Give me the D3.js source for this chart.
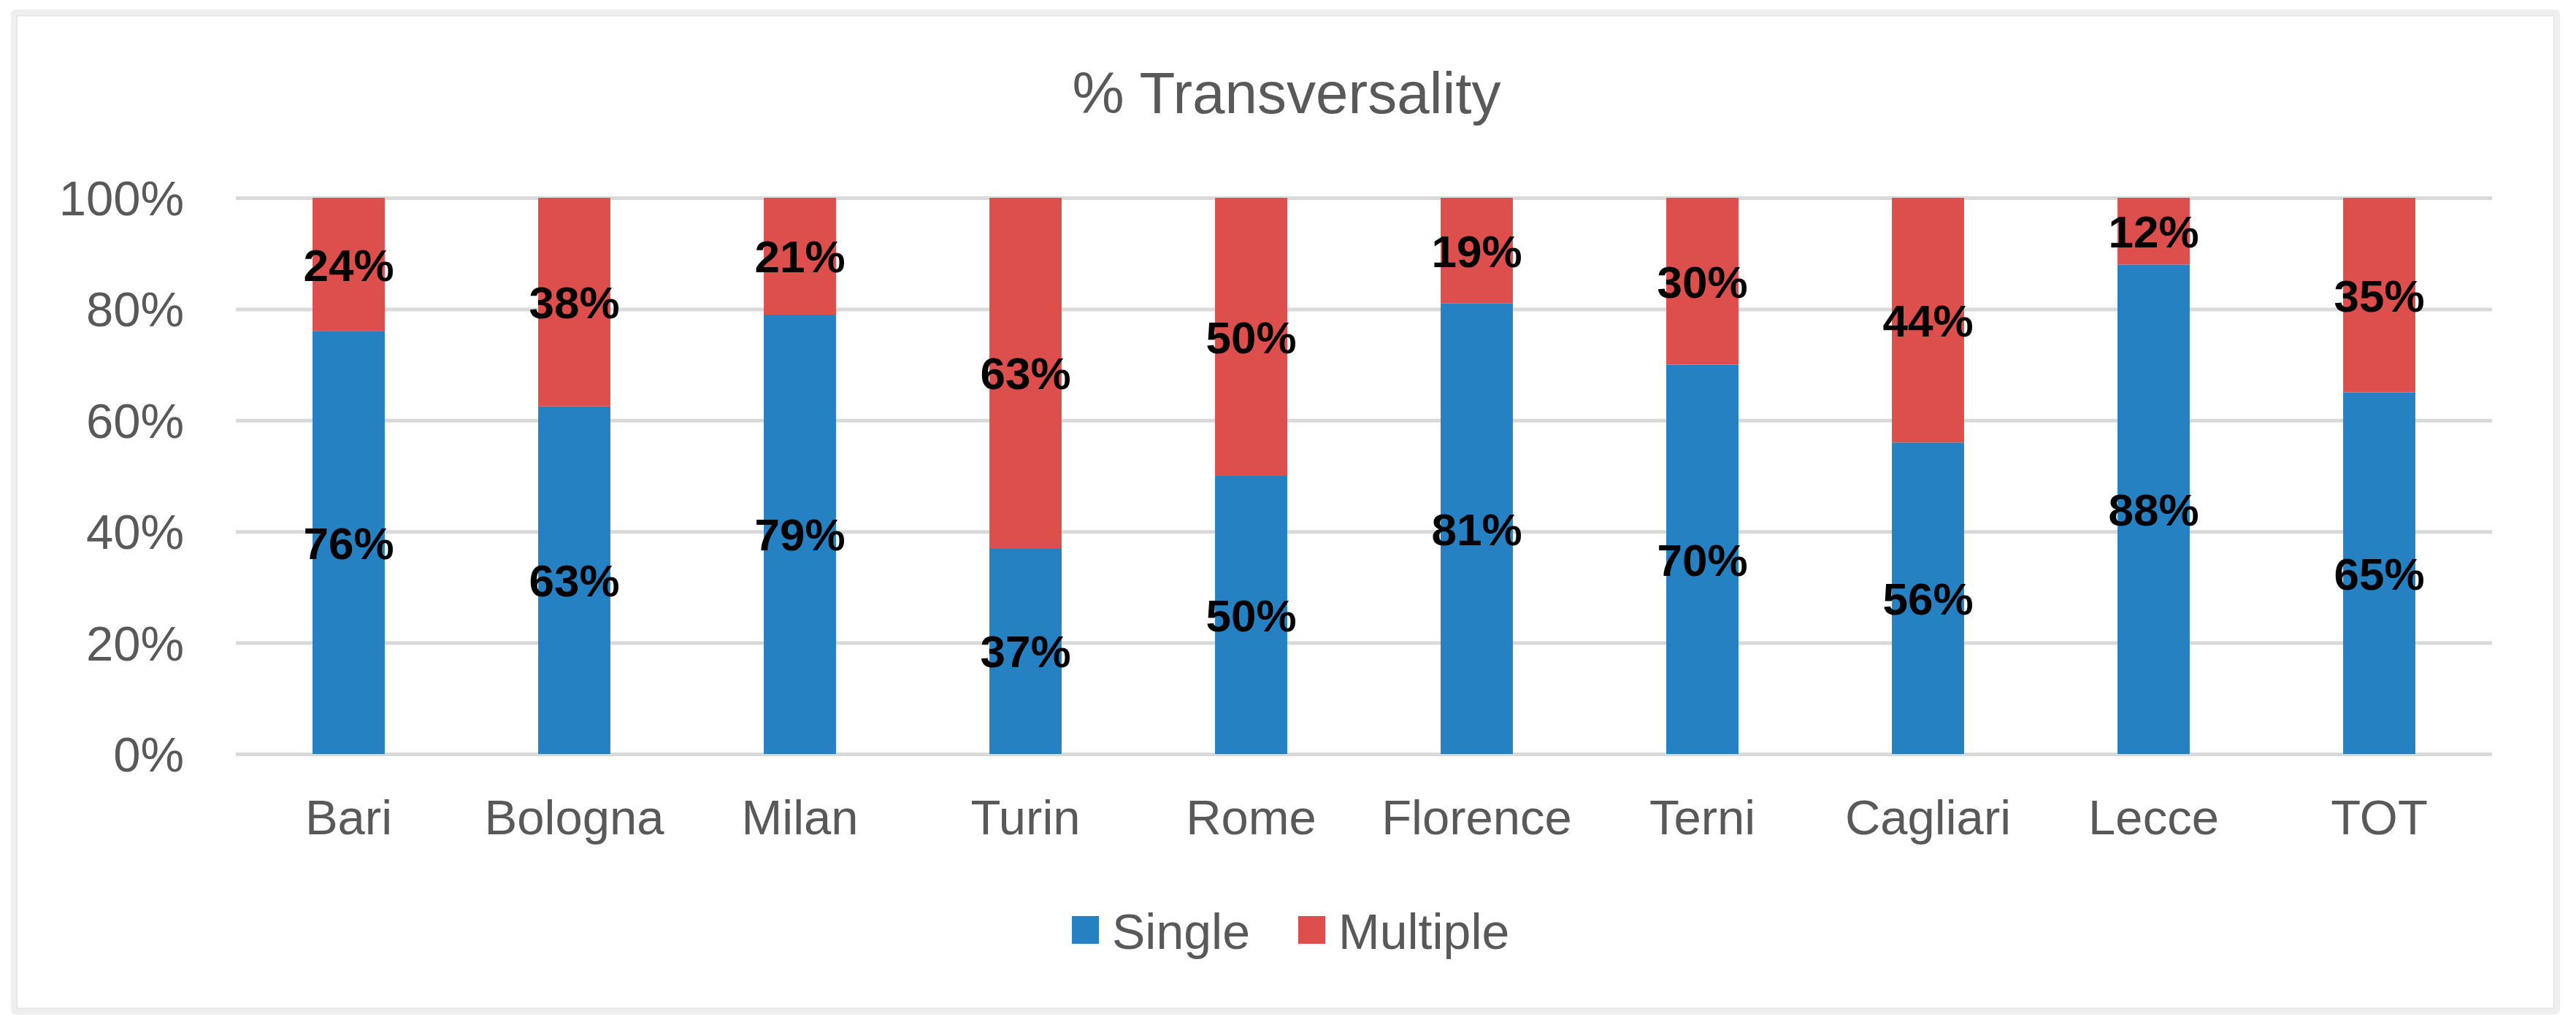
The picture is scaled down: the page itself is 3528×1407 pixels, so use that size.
<!DOCTYPE html>
<html>
<head>
<meta charset="utf-8">
<title>% Transversality</title>
<script src="https://cdn.jsdelivr.net/npm/d3@7"></script>
<style>
    body { margin: 0; background: #ffffff; }
    svg { display: block; font-family: "Liberation Sans", Arial, Helvetica, sans-serif; }
</style>
</head>
<body>
<div id="chart"></div>
<script>
var cities = ["Bari", "Bologna", "Milan", "Turin", "Rome", "Florence", "Terni", "Cagliari", "Lecce", "TOT"];
var single = [0.76, 0.625, 0.79, 0.37, 0.50, 0.81, 0.70, 0.56, 0.88, 0.65];
var multiple = [0.24, 0.375, 0.21, 0.63, 0.50, 0.19, 0.30, 0.44, 0.12, 0.35];
var seriesNames = ["Single", "Multiple"];
var yTicks = [0, 0.2, 0.4, 0.6, 0.8, 1];
var colorList = ["#2581c2", "#dd4f4d"];

var width = 3528, height = 1407;
var margin = {left: 323, right: 115, top: 271, bottom: 374};

var svg = d3.select("#chart").append("svg")
    .attr("width", width)
    .attr("height", height);

// chart frame
svg.append("rect")
    .attr("x", 19).attr("y", 17)
    .attr("width", 3483).attr("height", 1369)
    .attr("rx", 3)
    .attr("fill", "#ffffff")
    .attr("stroke", "#f0efef")
    .attr("stroke-width", 8);
svg.append("rect")
    .attr("x", 23.5).attr("y", 21.5)
    .attr("width", 3474).attr("height", 1360)
    .attr("fill", "none")
    .attr("stroke", "#e4e4e4")
    .attr("stroke-width", 1.5);

var table = cities.map(function(c, i) {
    return {city: c, Single: single[i], Multiple: multiple[i]};
});
var stacked = d3.stack().keys(seriesNames)(table);

var xscale = d3.scaleBand()
    .domain(cities)
    .range([margin.left, width - margin.right])
    .paddingInner(0.68)
    .paddingOuter(0.34);

var yscale = d3.scaleLinear()
    .domain([0, 1])
    .range([height - margin.bottom, margin.top]);

var color = d3.scaleOrdinal().domain(seriesNames).range(colorList);

// title
svg.append("text")
    .attr("x", 1762)
    .attr("y", 155)
    .attr("text-anchor", "middle")
    .style("font-size", "80px")
    .attr("fill", "#595959")
    .text("% Transversality");

// gridlines + y labels
var yaxis = svg.append("g")
    .attr("class", "yaxis")
    .attr("transform", "translate(" + margin.left + ",0)")
    .call(d3.axisLeft(yscale)
        .tickValues(yTicks)
        .tickFormat(d3.format(".0%"))
        .tickSize(-(width - margin.left - margin.right))
        .tickPadding(71));
yaxis.select(".domain").remove();
yaxis.selectAll("line")
    .attr("stroke", "#d9d9d9")
    .attr("stroke-width", 5);
yaxis.selectAll("text")
    .attr("fill", "#595959")
    .style("font-size", "67px")
    .attr("dy", "0.35em");

// x labels
var xaxis = svg.append("g")
    .attr("class", "xaxis")
    .attr("transform", "translate(0," + (height - margin.bottom) + ")")
    .call(d3.axisBottom(xscale).tickSize(0).tickPadding(62));
xaxis.select(".domain").remove();
xaxis.selectAll("text")
    .attr("fill", "#595959")
    .style("font-size", "67px");

// bars
var groups = svg.selectAll("g.series")
    .data(stacked)
    .join("g").attr("class", "series")
    .attr("fill", function(d) { return color(d.key); });

groups.selectAll("rect")
    .data(function(d) { return d; })
    .join("rect")
    .attr("x", function(d) { return xscale(d.data.city); })
    .attr("y", function(d) { return yscale(d[1]); })
    .attr("width", xscale.bandwidth())
    .attr("height", function(d) { return yscale(d[0]) - yscale(d[1]); });

// data labels
var fmt = d3.format(".0%");
groups.selectAll("text")
    .data(function(d) { return d; })
    .join("text")
    .attr("x", function(d) { return xscale(d.data.city) + xscale.bandwidth() / 2; })
    .attr("y", function(d) { return yscale((d[0] + d[1]) / 2); })
    .attr("dy", "0.36em")
    .attr("text-anchor", "middle")
    .attr("fill", "#000000")
    .style("font-size", "62px")
    .style("font-weight", "bold")
    .text(function(d) { return fmt(d[1] - d[0]); });

// legend
var legend = svg.append("g").attr("class", "legendGroup");
var legendX = [1468, 1778];
seriesNames.forEach(function(name, j) {
    legend.append("rect")
        .attr("x", legendX[j])
        .attr("y", 1255)
        .attr("width", 37)
        .attr("height", 38)
        .attr("fill", color(name));
    legend.append("text")
        .attr("x", legendX[j] + 55)
        .attr("y", 1300)
        .attr("fill", "#595959")
        .style("font-size", "68px")
        .text(name);
});
</script>
</body>
</html>
